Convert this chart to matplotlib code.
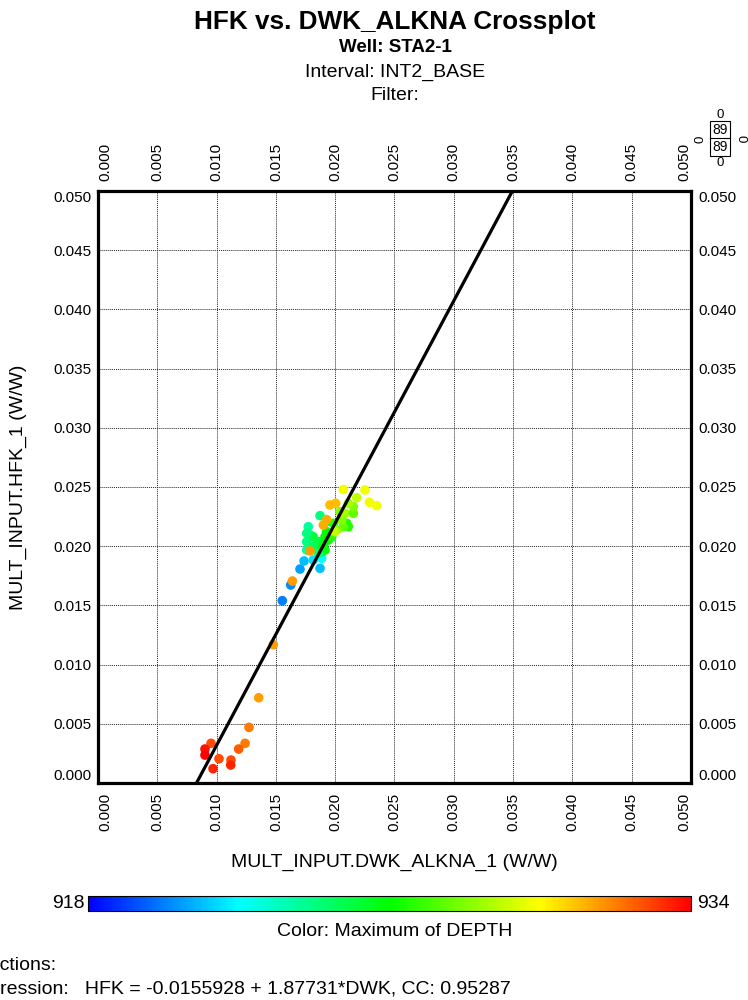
import numpy as np
import matplotlib.pyplot as plt
from matplotlib.colors import Normalize, LinearSegmentedColormap

plt.rcParams['font.family'] = ['Liberation Sans', 'DejaVu Sans']

# DWK_ALKNA (x), HFK (y), depth (colour)
dwk = [0.01478, 0.01355, 0.01273, 0.01240, 0.01186, 0.01121, 0.01119, 0.01020,
       0.00970, 0.00953, 0.00902, 0.00902,
       0.01554, 0.01625, 0.01703, 0.01737, 0.01872, 0.01815, 0.01886, 0.01760,
       0.01760, 0.01788, 0.01773, 0.01872, 0.01928, 0.01858, 0.01815, 0.01886,
       0.01914, 0.01858, 0.01886, 0.01900, 0.01942, 0.01914, 0.01971, 0.01928,
       0.01815, 0.01984, 0.02097, 0.02111, 0.02068, 0.02055, 0.02013, 0.01998,
       0.02041, 0.02083, 0.02153, 0.02153, 0.02111, 0.02181,
       0.01639, 0.01760, 0.01788, 0.01900, 0.01928, 0.01956, 0.02004,
       0.02068, 0.02251, 0.02288, 0.02350]
hfk = [0.01168, 0.00720, 0.00470, 0.00335, 0.00287, 0.00194, 0.00152, 0.00205,
       0.00121, 0.00335, 0.00287, 0.00236,
       0.01540, 0.01672, 0.01807, 0.01875, 0.01813, 0.01883, 0.01898, 0.01968,
       0.02038, 0.02095, 0.02165, 0.02258, 0.02207, 0.02038, 0.01996, 0.01954,
       0.01968, 0.01940, 0.01996, 0.02010, 0.02052, 0.02080, 0.02080, 0.02123,
       0.02080, 0.02193, 0.02193, 0.02165, 0.02165, 0.02221, 0.02137, 0.02123,
       0.02291, 0.02278, 0.02278, 0.02334, 0.02362, 0.02410,
       0.01706, 0.02109, 0.01960, 0.02179, 0.02225, 0.02348, 0.02362,
       0.02479, 0.02475, 0.02371, 0.02342]
depth = [931.5, 931.5, 932.0, 932.0, 932.5, 932.8, 933.4, 932.8,
         933.4, 932.8, 933.7, 934.0,
         920.0, 920.2, 920.5, 921.0, 921.0, 921.5, 922.0, 923.5,
         924.0, 924.0, 923.5, 924.0, 925.5, 925.0, 924.5, 925.5,
         926.0, 924.0, 925.5, 926.0, 926.0, 926.0, 926.5, 926.0,
         925.0, 926.5, 926.5, 926.5, 927.5, 928.0, 928.0, 929.0,
         928.0, 928.5, 927.5, 928.0, 928.5, 929.0,
         931.5, 924.0, 931.5, 931.3, 931.3, 931.0, 931.0,
         929.8, 929.8, 929.8, 929.8]

intercept = -0.0155928
slope = 1.87731
ticks = np.arange(0, 0.0501, 0.005)
tick_labels = ['%.3f' % t for t in ticks]

rainbow = LinearSegmentedColormap.from_list(
    'rb', ['#0000ff', '#00ffff', '#00ff00', '#ffff00', '#ff0000'])

fig = plt.figure(figsize=(7.48, 10), dpi=100)
ax = fig.add_axes([98 / 748, 0.217, 593 / 748, 0.592])

norm = Normalize(918, 934)
sc = ax.scatter(dwk, hfk, c=depth, cmap=rainbow, norm=norm, s=48, linewidths=0, zorder=3)

# regression line
xl = np.array([0.0, 0.05])
ax.plot(xl, intercept + slope * xl, color='black', lw=2.3, zorder=4)

ax.set_xlim(0, 0.05)
ax.set_ylim(0, 0.05)
ax.set_xticks(ticks)
ax.set_yticks(ticks)
ax.set_xticklabels(tick_labels)
ax.set_yticklabels(tick_labels)
ax.tick_params(axis='x', which='both', length=0, labelsize=11, rotation=90,
               top=True, labeltop=True, pad=7)
ax.tick_params(axis='y', which='both', length=0, labelsize=11,
               right=True, labelright=True, pad=5)
ax.grid(True, color='0.15', linestyle=(0, (1, 1)), lw=0.7)
for s in ax.spines.values():
    s.set_linewidth(2.3)

# keep end labels inside the frame
xt = ax.xaxis.get_major_ticks()
xt[0].label1.set_ha('left')
xt[0].label2.set_ha('left')
xt[-1].label1.set_ha('right')
xt[-1].label2.set_ha('right')
yt = ax.yaxis.get_major_ticks()
yt[0].label1.set_va('bottom')
yt[0].label2.set_va('bottom')
yt[-1].label1.set_va('top')
yt[-1].label2.set_va('top')

fig.text(394 / 748, 1 - 862 / 1000, 'MULT_INPUT.DWK_ALKNA_1 (W/W)', ha='center',
         va='center', fontsize=14)
fig.text(18 / 748, 1 - 487 / 1000, 'MULT_INPUT.HFK_1 (W/W)', ha='center',
         va='center', fontsize=14, rotation=90)

# titles
fig.text(0.528, 0.978, 'HFK vs. DWK_ALKNA Crossplot', ha='center', va='center',
         fontsize=18.8, fontweight='bold')
fig.text(0.528, 0.953, 'Well: STA2-1', ha='center', va='center', fontsize=13.5,
         fontweight='bold')
fig.text(0.528, 0.928, 'Interval: INT2_BASE', ha='center', va='center', fontsize=14)
fig.text(0.528, 0.904, 'Filter:', ha='center', va='center', fontsize=14)

# point count box
bx = 720 / 748
fig.text(bx, 1 - 115 / 1000, '0', ha='center', va='center', fontsize=9.5)
fig.text(bx, 1 - 130 / 1000, '89', ha='center', va='center', fontsize=10,
         bbox=dict(boxstyle='square,pad=0.15', fc='white', ec='black', lw=0.8))
fig.text(bx, 1 - 147 / 1000, '89', ha='center', va='center', fontsize=10,
         bbox=dict(boxstyle='square,pad=0.15', fc='white', ec='black', lw=0.8))
fig.text(bx, 1 - 163 / 1000, '0', ha='center', va='center', fontsize=9.5)
fig.text(701 / 748, 1 - 139 / 1000, '0', ha='center', va='center', fontsize=9.5, rotation=90)
fig.text(740 / 748, 1 - 139 / 1000, '0', ha='center', va='center', fontsize=9.5, rotation=-90)

# colour bar
cax = fig.add_axes([88 / 748, 0.089, 603 / 748, 0.015])
cb = fig.colorbar(sc, cax=cax, orientation='horizontal')
cb.set_ticks([])
cb.outline.set_linewidth(0.8)
fig.text(85 / 748, 0.0965, '918', ha='right', va='center', fontsize=14)
fig.text(697 / 748, 0.0965, '934', ha='left', va='center', fontsize=14)
fig.text(0.528, 0.068, 'Color: Maximum of DEPTH', ha='center', va='center', fontsize=14)

# functions
fig.text(-0.045, 1 - 966 / 1000, 'Functions:', ha='left', va='center', fontsize=14)
fig.text(-0.048, 1 - 989 / 1000,
         'Regression:   HFK = -0.0155928 + 1.87731*DWK, CC: 0.95287',
         ha='left', va='center', fontsize=14)

fig.savefig('out.png', dpi=100)
